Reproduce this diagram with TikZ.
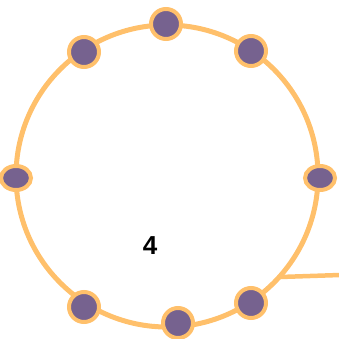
\documentclass[tikz,border=0pt]{standalone}
\usepackage{fontspec}
\setmainfont{Liberation Sans}
\usetikzlibrary{shapes.geometric}
\definecolor{ringorange}{RGB}{255,192,107}
\definecolor{dotpurple}{RGB}{118,98,143}
\begin{document}
\begin{tikzpicture}[x=1pt,y=-1pt,
  ring/.style={draw=ringorange,line width=5pt},
  dotnode/.style={circle,draw=ringorange,line width=4pt,fill=dotpurple,minimum size=30pt,inner sep=0pt},
  sidedot/.style={ellipse,draw=ringorange,line width=4pt,fill=dotpurple,minimum width=30pt,minimum height=24pt,inner sep=0pt},
  lbl/.style={font=\bfseries\fontsize{26}{26}\selectfont,text=black,inner sep=0pt}]
\useasboundingbox (0,0) rectangle (338,339);
\coordinate (c) at (167,176);
\draw[ring] (c) circle[radius=151];
\coordinate (j) at (280,277);
\coordinate (e) at (340,275);
\draw[draw=ringorange,line width=4.5pt] (j) -- (e);
\node[dotnode] (d1) at (166,24) {};
\node[dotnode] (d2) at (84,52) {};
\node[dotnode] (d3) at (251,51) {};
\node[sidedot] (d4) at (16,178) {};
\node[sidedot] (d5) at (320,178) {};
\node[dotnode] (d6) at (84,307) {};
\node[dotnode] (d7) at (178,323) {};
\node[dotnode] (d8) at (251,303) {};
\node[lbl] (l) at (150,246) {4};
\end{tikzpicture}
\end{document}
